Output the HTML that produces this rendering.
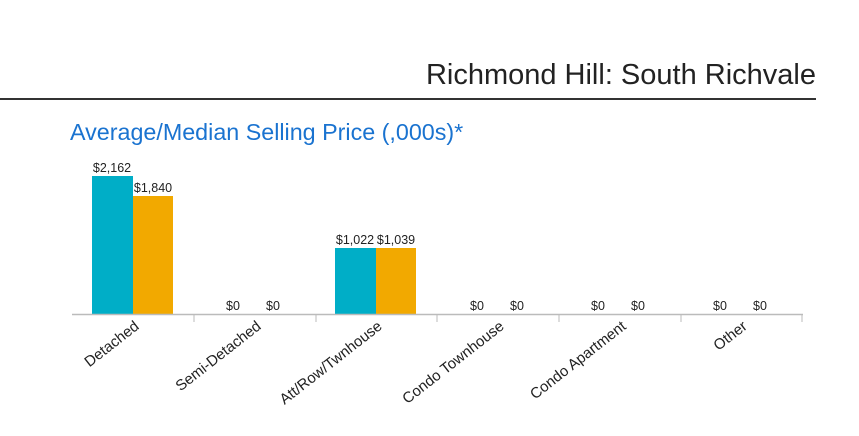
<!DOCTYPE html>
<html><head><style>
body{margin:0;background:#fff;width:859px;height:431px;overflow:hidden;font-family:"Liberation Sans",Arial,sans-serif}
</style></head><body>
<svg width="859" height="431" xmlns="http://www.w3.org/2000/svg" font-family="Liberation Sans, Arial, sans-serif">
<text x="816" y="84" text-anchor="end" font-size="29" fill="#222">Richmond Hill: South Richvale</text>
<rect x="0" y="98" width="816" height="2" fill="#333"/>
<text x="70" y="140" font-size="23.3" fill="#1a73d0">Average/Median Selling Price (,000s)*</text>
<rect x="92" y="176" width="41" height="138" fill="#00aec7"/>
<rect x="133" y="196" width="40" height="118" fill="#f2a900"/>
<rect x="335" y="248" width="41" height="66" fill="#00aec7"/>
<rect x="376" y="248" width="40" height="66" fill="#f2a900"/>
<line x1="72" y1="314.5" x2="803" y2="314.5" stroke="#bbb" stroke-width="1.5"/>
<g stroke="#bbb" stroke-width="1">
<line x1="194" y1="314" x2="194" y2="322"/><line x1="316" y1="314" x2="316" y2="322"/>
<line x1="437" y1="314" x2="437" y2="322"/><line x1="559" y1="314" x2="559" y2="322"/>
<line x1="681" y1="314" x2="681" y2="322"/><line x1="802" y1="314" x2="802" y2="322"/>
</g>
<g font-size="12.5" fill="#222" text-anchor="middle">
<text x="112" y="172">$2,162</text><text x="153" y="192">$1,840</text>
<text x="233" y="310">$0</text><text x="273" y="310">$0</text>
<text x="355" y="244">$1,022</text><text x="396" y="244">$1,039</text>
<text x="477" y="310">$0</text><text x="517" y="310">$0</text>
<text x="598" y="310">$0</text><text x="638" y="310">$0</text>
<text x="720" y="310">$0</text><text x="760" y="310">$0</text>
</g>
<g font-size="15" fill="#222" text-anchor="end">
<text transform="translate(140,328) rotate(-38)">Detached</text>
<text transform="translate(262,328) rotate(-38)">Semi-Detached</text>
<text transform="translate(383,328) rotate(-38)">Att/Row/Twnhouse</text>
<text transform="translate(505,328) rotate(-38)">Condo Townhouse</text>
<text transform="translate(627,328) rotate(-38)">Condo Apartment</text>
<text transform="translate(748,328) rotate(-38)">Other</text>
</g>
</svg>
</body></html>
